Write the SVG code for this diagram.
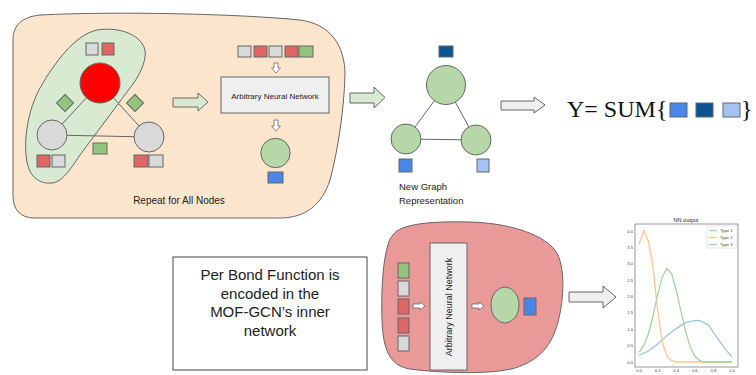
<svg xmlns="http://www.w3.org/2000/svg" width="756" height="375" viewBox="0 0 756 375">
<style>
.s{stroke:#666;stroke-width:1}
.gr{fill:#d9d9d9;stroke:#666;stroke-width:1}
.rd{fill:#e06666;stroke:#666;stroke-width:1}
.gn{fill:#93c47d;stroke:#666;stroke-width:1}
.bl{fill:#4a86e8;stroke:#666;stroke-width:1}
.db{fill:#0b5394;stroke:#666;stroke-width:1}
.lb{fill:#a4c2f4;stroke:#666;stroke-width:1}
.gc{fill:#b6d7a8;stroke:#666;stroke-width:1}
.ln{stroke:#666;stroke-width:1;fill:none}
.t{font-family:"Liberation Sans",Arial,sans-serif;fill:#222}
.tk{font-family:"Liberation Sans",Arial,sans-serif;font-size:4.2px;fill:#444}
.harr{fill:#fff;stroke:#666;stroke-width:0.8}
</style>

<g id="outer-blob">
<path d="M13,40 C13,25 22,17 40,15 C120,11 240,14 300,20 C330,24 345,45 345,75 C344,110 338,150 330,180 C322,205 305,218 280,218 L35,218 C20,218 13,210 13,195 Z" fill="#fce5cd" stroke="#666" stroke-width="1"/>
</g>
<g id="green-blob">
<path d="M97,30 C115,27 140,32 145,50 C147,62 138,78 130,88 L80,155 C70,170 62,182 52,183 C40,184 30,178 27,162 C23,140 28,110 40,88 C55,62 75,35 97,30 Z" fill="#d9ead3" stroke="#666" stroke-width="1"/>
</g>
<g id="bond-blob">
<path d="M393,235 C400,224 430,221 470,222 C505,223 540,232 555,250 C566,265 564,300 558,322 C552,345 540,360 515,368 C490,375 440,373 410,369 C390,366 383,350 382,320 C381,290 383,260 388,245 C389,240 391,237 393,235 Z" fill="#ea9999" stroke="#666" stroke-width="1"/>
</g>

<g id="connectors">
<line class="ln" x1="100" y1="83" x2="52" y2="135"/>
<line class="ln" x1="100" y1="83" x2="149" y2="137"/>
<line class="ln" x1="52" y1="135" x2="149" y2="137"/>
<line class="ln" x1="446" y1="85" x2="406" y2="139"/>
<line class="ln" x1="446" y1="85" x2="476" y2="140"/>
<line class="ln" x1="406" y1="139" x2="476" y2="140"/>
<path d="M173,98 L198,98 L198,93 L208,102 L198,111 L198,107 L173,107 Z" fill="#d9ead3" stroke="#666" stroke-width="1"/>
<path d="M350,93 L374,93 L374,87 L385,97.5 L374,108 L374,103 L350,103 Z" fill="#d9ead3" stroke="#666" stroke-width="1"/>
<path d="M501,101 L534,101 L534,97 L545,105 L534,113 L534,110 L501,110 Z" fill="#efefef" stroke="#666" stroke-width="1"/>
<path d="M569,292 L603,292 L603,286 L616,297 L603,308 L603,302 L569,302 Z" fill="#efefef" stroke="#666" stroke-width="1"/>
<path class="harr" d="M274,63 L278,63 L278,68 L280.5,68 L276,73 L271.5,68 L274,68 Z"/>
<path class="harr" d="M274,120 L278,120 L278,126 L280.5,126 L276,131 L271.5,126 L274,126 Z"/>
<path class="harr" d="M413,304 L420,304 L420,302 L425,306 L420,310 L420,308 L413,308 Z"/>
<path class="harr" d="M472,304 L479,304 L479,302 L484,306 L479,310 L479,308 L472,308 Z"/>
</g>

<g id="node-red">
<circle cx="100" cy="83" r="20" fill="#ff0000" stroke="#666" stroke-width="1"/>
<rect class="gr" x="86" y="43" width="12" height="12"/>
<rect class="rd" x="102" y="43" width="12" height="12"/>
</g>
<g id="node-left">
<circle cx="52" cy="135" r="15" fill="#d9d9d9" stroke="#666" stroke-width="1"/>
<rect class="rd" x="37" y="155" width="13" height="12"/>
<rect class="gr" x="52" y="155" width="13" height="12"/>
</g>
<g id="node-right">
<circle cx="149" cy="137" r="15" fill="#d9d9d9" stroke="#666" stroke-width="1"/>
<rect class="rd" x="134" y="155" width="14" height="12"/>
<rect class="gr" x="149" y="155" width="14" height="12"/>
</g>
<g id="edge-features">
<rect class="gn" x="59" y="97" width="12" height="12" transform="rotate(45 65 103)"/>
<rect class="gn" x="129" y="97" width="12" height="12" transform="rotate(45 135 103)"/>
<rect class="gn" x="93" y="143" width="14" height="11"/>
</g>

<g id="nn-top">
<rect class="gr" x="238" y="46" width="13" height="11"/>
<rect class="rd" x="254" y="46" width="13" height="11"/>
<rect class="gr" x="269" y="46" width="13" height="11"/>
<rect class="rd" x="285" y="46" width="13" height="11"/>
<rect class="gn" x="299" y="46" width="14" height="11"/>
<rect x="221" y="77" width="108" height="36" fill="#efefef" stroke="#666" stroke-width="1"/>
<text class="t" x="275" y="99" font-size="8" text-anchor="middle">Arbitrary Neural Network</text>
<circle class="gc" cx="275.5" cy="153" r="14.7"/>
<rect class="bl" x="268" y="172" width="15" height="11"/>
</g>
<text class="t" x="179" y="204" font-size="10" text-anchor="middle">Repeat for All Nodes</text>

<g id="new-graph">
<rect class="db" x="439" y="46" width="14" height="11"/>
<circle class="gc" cx="446" cy="85" r="19.5"/>
<circle class="gc" cx="406" cy="139" r="15"/>
<circle class="gc" cx="476" cy="140" r="15"/>
<rect class="bl" x="399" y="159" width="13" height="13"/>
<rect class="lb" x="477" y="159" width="12" height="13"/>
<text class="t" x="399" y="190" font-size="9.5">New Graph</text>
<text class="t" x="399" y="203.5" font-size="9.5">Representation</text>
</g>

<g id="sum">
<text x="567" y="117" font-family="'Liberation Serif','Times New Roman',serif" font-size="24" fill="#111">Y= SUM{</text>
<rect class="bl" x="670" y="103" width="17" height="14"/>
<rect class="db" x="696" y="103" width="17" height="14"/>
<rect class="lb" x="723" y="103" width="17" height="14"/>
<text x="741" y="117" font-family="'Liberation Serif','Times New Roman',serif" font-size="24" fill="#111">}</text>
</g>

<g id="text-box">
<rect x="173" y="257" width="194" height="113" fill="#fff" stroke="#444" stroke-width="1"/>
<text class="t" font-size="15" text-anchor="middle"><tspan x="270" y="280">Per Bond Function is</tspan><tspan x="270" y="298.5">encoded in the</tspan><tspan x="270" y="317">MOF-GCN’s inner</tspan><tspan x="270" y="335.5">network</tspan></text>
</g>

<g id="bond-nn">
<rect class="gn" x="398" y="263" width="11" height="15"/>
<rect class="gr" x="398" y="281" width="11" height="15"/>
<rect class="rd" x="398" y="299" width="11" height="15"/>
<rect class="rd" x="398" y="318" width="11" height="15"/>
<rect class="gr" x="398" y="336" width="11" height="15"/>
<rect x="430" y="243" width="37" height="127" fill="#efefef" stroke="#666" stroke-width="1"/>
<text class="t" x="0" y="0" font-size="9" text-anchor="middle" transform="translate(451.5 307) rotate(-90)">Arbitrary Neural Network</text>
<ellipse class="gc" cx="505" cy="305" rx="14" ry="18"/>
<rect class="bl" x="524" y="298" width="12" height="17"/>
</g>

<g id="chart">
<rect x="635" y="224" width="103" height="143" fill="#fff" stroke="#333" stroke-width="0.5"/>
<text class="t" x="686" y="222" font-size="5.5" text-anchor="middle">NN output</text>
<g class="tk" text-anchor="end">
<text x="633" y="363.5">0.0</text><text x="633" y="347.1">0.5</text><text x="633" y="330.8">1.0</text><text x="633" y="314.4">1.5</text><text x="633" y="298">2.0</text><text x="633" y="281.6">2.5</text><text x="633" y="265.3">3.0</text><text x="633" y="248.9">3.5</text><text x="633" y="232.5">4.0</text>
</g>
<g class="tk" text-anchor="middle">
<text x="639" y="372">0.0</text><text x="657.6" y="372">0.2</text><text x="676.2" y="372">0.4</text><text x="694.8" y="372">0.6</text><text x="713.4" y="372">0.8</text><text x="732" y="372">1.0</text>
</g>
<polyline fill="none" stroke="#9ec5e4" stroke-width="1.3" points="639,355.5 648.3,351.2 657.6,344 666.9,335.8 676.2,328.6 685.5,322.7 694.8,320.7 699.5,320.4 708.8,325.3 713.4,332.5 722.7,345.6 732,357.1"/>
<polyline fill="none" stroke="#ffc48f" stroke-width="1.3" points="639,244.1 643.7,231 648.3,240.8 653,267 657.6,309.6 662.3,342.4 666.9,356.1 671.6,360.7 676.2,362 732,362"/>
<polyline fill="none" stroke="#9fd69f" stroke-width="1.3" points="639,352.2 643.7,345.6 648.3,334.2 653,316.2 657.6,294.9 662.3,276.9 666.9,268.7 671.6,273.6 676.2,290 680.9,311.2 685.5,330.9 690.2,347.3 694.8,356.1 699.5,360.4 704.1,362 732,362"/>
<rect x="707" y="226" width="30" height="22" fill="#fff" stroke="#ccc" stroke-width="0.5"/>
<line x1="709" y1="230.5" x2="717" y2="230.5" stroke="#9ec5e4" stroke-width="1.3"/>
<line x1="709" y1="237.5" x2="717" y2="237.5" stroke="#ffc48f" stroke-width="1.3"/>
<line x1="709" y1="244.5" x2="717" y2="244.5" stroke="#9fd69f" stroke-width="1.3"/>
<text class="tk" x="720" y="232">Type 1</text>
<text class="tk" x="720" y="239">Type 2</text>
<text class="tk" x="720" y="246">Type 3</text>
</g>
</svg>
